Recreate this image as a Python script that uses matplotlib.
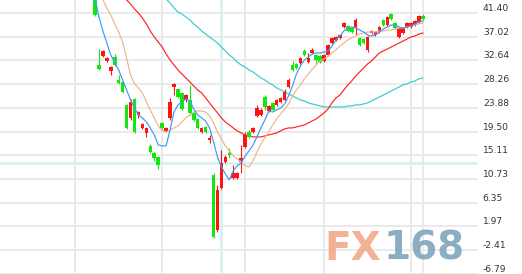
import numpy as np
import matplotlib
matplotlib.use("Agg")
import matplotlib.pyplot as plt

W, H, DPI = 522, 274, 100

# ---- candle data (index 0..83) ----
opens = [46.57, 31.80, 33.46, 32.54, 30.69, 33.28, 29.03, 28.66, 24.42, 22.02,
         25.52, 22.57, 20.17, 19.25, 16.85, 15.56, 14.82, 21.09, 19.62, 22.02,
         27.74, 27.37, 26.63, 25.34, 25.34, 22.94, 21.83, 19.43, 20.36, 17.96,
         11.49, 1.34, 9.10, 13.89, 15.56, 10.94, 10.94, 13.89, 16.66, 19.43,
         19.43, 22.39, 22.57, 25.89, 23.31, 24.79, 24.42, 24.97, 25.34, 27.74,
         31.80, 31.99, 32.17, 34.39, 32.35, 34.02, 33.65, 33.46, 32.54, 33.65,
         35.86, 36.42, 36.78, 38.82, 39.00, 38.63, 38.82, 36.78, 36.60, 34.57,
         37.71, 37.34, 37.89, 40.11, 39.18, 41.22, 39.55, 36.97, 37.71, 38.82,
         38.82, 39.18, 39.74, 40.85]
highs = [47.50, 34.75, 34.57, 33.28, 31.62, 33.83, 29.95, 28.85, 24.60, 25.52,
         25.71, 23.31, 21.09, 20.36, 17.22, 15.74, 15.00, 21.28, 20.36, 25.71,
         28.48, 27.56, 26.82, 26.45, 28.11, 23.12, 22.02, 20.36, 20.54, 18.88,
         11.86, 9.65, 16.11, 15.19, 16.48, 13.34, 12.05, 17.03, 19.43, 19.80,
         20.36, 24.42, 23.86, 26.26, 24.42, 24.97, 25.52, 25.89, 27.37, 29.40,
         32.54, 32.17, 33.28, 34.75, 34.02, 34.94, 33.83, 33.65, 33.83, 35.68,
         36.97, 37.15, 37.52, 39.74, 39.18, 38.82, 40.48, 36.97, 36.78, 37.15,
         38.26, 38.08, 39.00, 40.29, 40.85, 41.40, 39.74, 38.82, 38.82, 39.74,
         39.74, 40.11, 41.03, 41.22]
lows = [40.85, 30.88, 33.28, 32.35, 29.95, 31.62, 28.29, 26.63, 19.99, 21.65,
        19.25, 22.02, 19.99, 18.51, 15.56, 14.08, 12.60, 19.99, 19.43, 21.65,
        26.26, 25.71, 23.49, 24.97, 22.57, 21.46, 19.99, 19.25, 19.25, 17.40,
        -0.13, 0.97, 8.91, 13.71, 14.63, 10.76, 10.76, 11.86, 16.48, 18.33,
        19.25, 22.20, 22.39, 23.49, 23.12, 23.31, 24.23, 24.79, 25.15, 27.56,
        30.69, 31.06, 31.99, 33.46, 32.17, 33.83, 32.17, 32.17, 32.35, 33.46,
        35.68, 36.23, 36.60, 38.63, 37.89, 37.71, 37.34, 35.31, 35.68, 34.20,
        37.52, 37.15, 37.71, 39.00, 39.00, 40.11, 38.45, 36.78, 37.52, 38.63,
        38.63, 39.00, 39.55, 40.11]
closes = [41.03, 31.06, 34.39, 33.09, 31.43, 31.80, 28.48, 26.82, 20.17, 24.97,
          19.43, 23.12, 20.91, 20.17, 15.74, 14.63, 13.34, 20.17, 20.17, 24.97,
          28.29, 25.89, 23.68, 26.26, 22.94, 21.65, 20.17, 20.17, 19.43, 18.33,
          0.05, 8.73, 13.71, 14.82, 15.19, 11.86, 11.86, 14.63, 18.88, 18.51,
          20.17, 23.86, 23.49, 24.05, 24.23, 23.49, 25.34, 25.71, 26.82, 29.03,
          30.88, 31.25, 33.09, 33.65, 33.09, 34.57, 32.72, 32.35, 33.65, 35.49,
          36.78, 36.97, 37.34, 39.55, 38.08, 37.89, 40.11, 35.49, 35.86, 36.97,
          38.08, 37.89, 38.82, 39.18, 40.66, 40.29, 38.63, 38.63, 38.63, 39.55,
          39.55, 39.92, 40.85, 40.29]

# ---- moving averages ----
ma5_start = 0
ma5 = [44.17, 40.66, 38.08, 35.86, 33.65, 32.17, 30.88, 29.03, 27.19, 25.34,
       23.86, 22.57, 22.02, 21.28, 20.17, 18.88, 17.03, 16.85, 16.85, 19.80,
       23.12, 24.42, 24.97, 25.52, 25.15, 23.68, 22.57, 22.02, 21.46, 20.17,
       17.59, 14.82, 12.97, 11.68, 10.57, 12.23, 13.16, 13.71, 15.00, 15.93,
       17.03, 18.51, 20.17, 21.65, 23.31, 23.12, 23.49, 23.86, 24.60, 26.09,
       27.92, 30.14, 31.62, 32.72, 33.28, 33.83, 34.02, 34.02, 34.20, 34.39,
       35.31, 36.42, 37.15, 38.08, 38.63, 38.82, 38.63, 38.26, 37.89, 37.34,
       37.15, 37.34, 37.89, 38.45, 38.82, 39.18, 39.18, 38.82, 38.63, 38.82,
       39.00, 39.37, 39.74, 39.92]
ma10_start = 1
ma10 = [44.72, 43.80, 42.32, 41.03, 39.37, 37.89, 36.05, 33.09, 29.95,
        28.29, 27.56, 26.63, 24.97, 23.49, 22.02, 20.54, 19.62, 19.43, 19.80,
        20.17, 20.54, 21.28, 22.02, 22.57, 23.12, 23.31, 23.31, 23.12, 22.39,
        21.09, 19.43, 18.14, 16.85, 15.93, 15.00, 14.45, 13.89, 13.16, 12.97,
        14.08, 15.74, 17.22, 18.33, 19.43, 20.73, 21.83, 22.76, 23.68, 24.60,
        26.08, 27.19, 28.11, 29.22, 30.14, 31.06, 31.80, 32.54, 32.91, 33.46,
        34.02, 34.57, 35.31, 35.86, 36.42, 36.79, 37.15, 37.52, 37.71, 37.89,
        37.89, 37.89, 38.08, 38.08, 38.26, 38.26, 38.45, 38.63, 38.63, 38.82,
        39.00, 39.18, 39.37, 39.55]
ma20_start = 7
ma20 = [44.91, 43.80, 43.06,
        42.14, 41.40, 40.48, 39.37, 38.08, 36.97, 36.05, 35.12, 33.83, 32.72,
        31.80, 30.88, 30.14, 29.40, 28.66, 27.92, 27.19, 26.63, 25.71, 24.79,
        23.86, 22.94, 22.02, 21.28, 20.73, 20.17, 19.62, 19.25, 18.88, 18.69,
        18.51, 18.51, 18.51, 18.69, 18.88, 19.06, 19.25, 19.62, 19.99, 20.17,
        20.17, 20.36, 20.54, 20.73, 21.09, 21.46, 21.83, 22.39, 22.94, 23.68,
        24.79, 25.71, 26.26, 27.19, 28.11, 28.85, 29.77, 30.51, 31.25, 31.99,
        32.54, 33.28, 34.02, 34.39, 34.75, 35.12, 35.49, 35.86, 36.23, 36.60,
        36.97, 37.15, 37.52, 37.71]
ma60_start = 18
ma60 = [43.98, 43.25,
        42.32, 41.58, 41.22, 40.66, 40.11, 39.37, 38.82, 38.08, 37.52, 36.97,
        36.42, 35.86, 35.12, 34.39, 33.65, 33.09, 32.35, 31.80, 31.43, 30.88,
        30.51, 29.95, 29.40, 29.03, 28.48, 28.11, 27.56, 27.19, 26.82, 26.45,
        26.08, 25.71, 25.34, 25.16, 24.79, 24.60, 24.42, 24.23, 24.05, 24.05,
        24.05, 24.05, 24.05, 24.05, 24.23, 24.23, 24.42, 24.42, 24.60, 24.79,
        25.16, 25.52, 25.89, 26.26, 26.63, 27.00, 27.37, 27.74, 28.11, 28.29,
        28.66, 28.85, 29.22, 29.40]

ytick_values = [41.40, 37.02, 32.64, 28.26, 23.88, 19.50, 15.11, 10.73, 6.35, 1.97, -2.41, -6.79]
ytick_labels = ["41.40", "37.02", "32.64", "28.26", "23.88", "19.50", "15.11",
                "10.73", "6.35", "1.97", "-2.41", "-6.79"]
vgrid_idx = [-5, 17, 38, 58, 80, 83]
cross_idx = 32
cross_val = 13.71

UP = "#ff1414"
DOWN = "#14e614"

fig = plt.figure(figsize=(W / DPI, H / DPI), dpi=DPI)
fig.patch.set_facecolor("white")
ax = fig.add_axes([0, 0, 478 / W, 1])
ax.set_facecolor("white")
ax.set_xlim(-24.05, 96.96)
ax.set_ylim(-6.81, 43.80)

# grid
ax.set_yticks(ytick_values)
ax.set_yticklabels(ytick_labels)
ax.grid(axis="y", color="#eaeaea", lw=1.4, zorder=0)
ax.set_xticks([])
for xv in vgrid_idx:
    ax.axvline(xv, color="#eaeaea", lw=1.4, zorder=0)

# crosshair
ax.axvline(cross_idx, color="#d2f0f0", lw=1.8, zorder=0.5)
ax.axhline(cross_val, color="#d2f0f0", lw=1.8, zorder=0.5)

# moving averages (behind)
ax.plot(np.arange(ma60_start, ma60_start + len(ma60)), ma60, color="#33cccc", lw=0.85, zorder=2)
ax.plot(np.arange(ma20_start, ma20_start + len(ma20)), ma20, color="#ff2222", lw=0.85, zorder=2)

# candles
idx = np.arange(len(opens))
o = np.array(opens); c = np.array(closes); hi = np.array(highs); lo = np.array(lows)
cols = [UP if cc >= oo else DOWN for oo, cc in zip(o, c)]
ax.vlines(idx, lo, hi, colors=cols, lw=0.8, zorder=3)
bottoms = np.minimum(o, c)
heights = np.maximum(np.abs(c - o), 0.25)
ax.bar(idx, heights, bottom=bottoms, width=0.9, color=cols, linewidth=0, zorder=3)

ax.plot(np.arange(ma10_start, ma10_start + len(ma10)), ma10, color="#f0b488", lw=0.85, zorder=4)
ax.plot(np.arange(ma5_start, ma5_start + len(ma5)), ma5, color="#3d9bf0", lw=0.85, zorder=4)

# axis styling
for s in ax.spines.values():
    s.set_visible(False)
ax.yaxis.tick_right()
ax.tick_params(axis="y", length=0, pad=3.5, labelsize=6.6, labelcolor="#333333")
for lab in ax.get_yticklabels():
    lab.set_verticalalignment("bottom")
    lab.set_fontfamily("DejaVu Sans")

# watermark
fig.text(381 / W, 14 / H, "FX", fontsize=28, fontweight="bold", color="#f4a98a",
         alpha=0.9, ha="right", va="baseline", family="DejaVu Sans", zorder=10)
fig.text(384 / W, 14 / H, "168", fontsize=28, fontweight="bold", color="#7fa5bc",
         alpha=0.9, ha="left", va="baseline", family="DejaVu Sans", zorder=10)

fig.savefig("out.png", dpi=DPI, facecolor="white")
